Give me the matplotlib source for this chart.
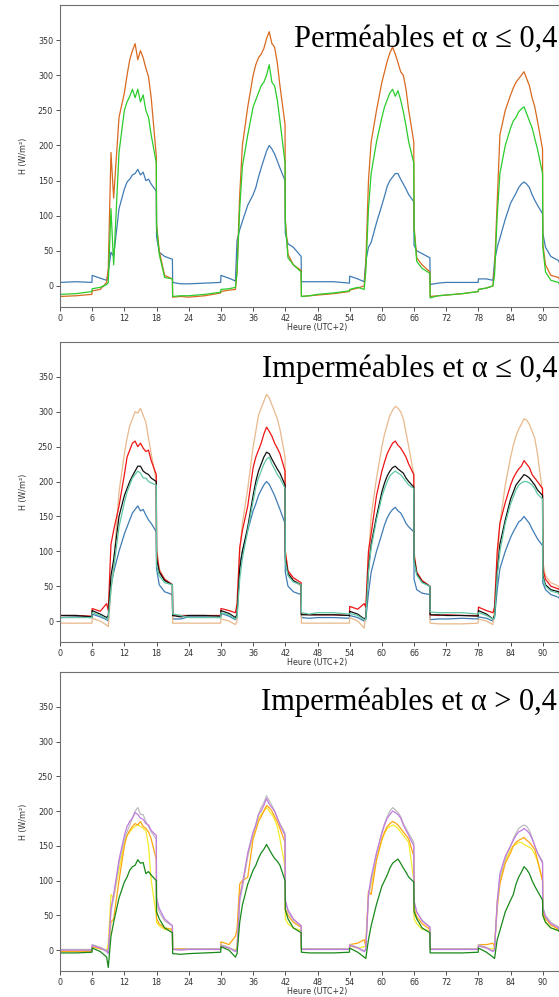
import matplotlib
matplotlib.use("Agg")
from matplotlib import pyplot as plt

# sampling hours inside one day (repeated for the 4 days of the record)
DAY_HOURS = [0, 3, 5.95, 6, 7.5, 8.7, 9, 9.5, 10, 11, 12, 12.5, 13, 13.5, 14, 14.5,
             15, 15.5, 16, 16.5, 17, 17.95, 18, 18.5, 19.5, 20.95, 21, 22.5]
hours = [24 * d + h for d in range(4) for h in DAY_HOURS] + [96]

X_TICKS = [0, 6, 12, 18, 24, 30, 36, 42, 48, 54, 60, 66, 72, 78, 84, 90]
Y_TICKS = [0, 50, 100, 150, 200, 250, 300, 350]

TITLES = ["Perméables et α ≤ 0,4",
          "Imperméables et α ≤ 0,4",
          "Imperméables et α > 0,4"]

# --- panel 1 : permeable surfaces
p1_blue = [5, 6, 5, 15, 11, 8, 20, 48, 42, 110, 138, 148, 152, 158, 160, 166, 158, 162, 150, 152, 145, 135, 70, 48, 42, 38, 5, 3,
           3, 4, 5, 15, 11, 7, 65, 80, 92, 115, 130, 140, 155, 168, 180, 192, 200, 195, 188, 178, 168, 150, 75, 60, 55, 42, 6, 6,
           6, 6, 4, 14, 10, 6, 35, 55, 62, 90, 115, 128, 142, 150, 155, 160, 160, 152, 145, 138, 130, 120, 58, 50, 46, 40, 2, 4,
           5, 5, 5, 10, 10, 8, 35, 55, 68, 95, 118, 125, 132, 140, 145, 148, 145, 140, 130, 122, 115, 103, 75, 55, 42, 36, 34, 32, 30]
p1_orange = [-15, -14, -12, -7, -5, 5, 25, 190, 125, 240, 275, 300, 322, 335, 345, 322, 335, 325, 310, 298, 268, 185, 88, 50, 15, 10, -16, -15,
             -16, -14, -10, -8, -6, -5, 20, 130, 200, 255, 300, 315, 325, 330, 338, 352, 362, 345, 340, 318, 285, 230, 95, 45, 30, 22, -15, -14,
             -13, -11, -8, -6, -3, 0, 30, 150, 205, 250, 290, 305, 320, 332, 340, 330, 318, 305, 300, 280, 250, 205, 85, 40, 30, 20, -15, -14,
             -13, -11, -8, -5, -3, 0, 25, 120, 215, 250, 272, 282, 290, 295, 300, 305, 295, 285, 268, 255, 235, 195, 60, 30, 15, 12, 10, 10, 10]
p1_green = [-12, -11, -8, -4, -2, 2, 5, 110, 30, 190, 250, 262, 270, 280, 268, 280, 262, 272, 250, 240, 215, 175, 85, 45, 12, 10, -15, -14,
            -14, -12, -9, -5, -4, -2, 20, 110, 170, 215, 255, 265, 275, 285, 290, 300, 315, 290, 285, 265, 235, 175, 90, 40, 30, 20, -15, -14,
            -12, -10, -7, -5, -2, -5, 20, 110, 160, 205, 240, 255, 265, 275, 280, 270, 278, 265, 248, 228, 205, 175, 80, 35, 25, 18, -17, -14,
            -13, -11, -8, -5, -3, 0, 15, 100, 160, 200, 225, 235, 240, 248, 252, 255, 245, 235, 225, 210, 195, 160, 55, 20, 8, 5, 3, 3, 3]

# --- panel 2 : impermeable surfaces, low albedo
p2_tan = [-3, -3, -3, 4, 0, -6, -8, 45, 80, 185, 240, 262, 280, 290, 300, 298, 305, 295, 285, 262, 240, 200, 105, 75, 60, 52, -3, -3,
          -3, -3, -3, 3, 0, -5, 0, 100, 140, 190, 250, 272, 295, 305, 315, 325, 320, 310, 300, 290, 275, 235, 100, 70, 58, 50, -3, -3,
          -3, -3, -3, 5, 0, -10, 10, 90, 150, 205, 250, 268, 282, 295, 302, 308, 305, 300, 290, 270, 250, 210, 100, 70, 58, 50, -3, -4,
          -4, -4, -3, 3, 0, -5, 20, 85, 140, 195, 235, 252, 265, 275, 282, 290, 288, 282, 272, 262, 240, 185, 85, 65, 55, 50, 48, 45, 45]
p2_red = [8, 8, 7, 18, 14, 25, 15, 110, 130, 165, 210, 235, 245, 255, 258, 250, 255, 248, 243, 245, 230, 210, 100, 72, 60, 52, 8, 8,
          8, 8, 8, 18, 15, 12, 25, 105, 130, 165, 220, 235, 245, 255, 268, 278, 272, 265, 255, 248, 240, 215, 100, 72, 62, 55, 10, 9,
          9, 9, 8, 21, 17, 25, 20, 100, 125, 180, 215, 228, 240, 248, 255, 258, 252, 248, 242, 235, 225, 210, 95, 70, 58, 50, 9, 8,
          9, 8, 8, 20, 15, 12, 20, 100, 140, 170, 195, 205, 212, 218, 222, 230, 225, 220, 210, 205, 200, 190, 75, 60, 50, 46, 45, 44, 44]
p2_black = [8, 8, 6, 15, 10, 5, 8, 65, 88, 150, 180, 190, 200, 208, 215, 222, 222, 215, 212, 210, 205, 200, 90, 70, 58, 52, 8, 6,
            8, 8, 7, 15, 11, 5, 10, 75, 100, 135, 180, 200, 215, 225, 235, 242, 240, 232, 225, 218, 212, 195, 90, 68, 58, 52, 9, 9,
            9, 9, 8, 14, 10, 3, 5, 75, 110, 150, 185, 198, 208, 215, 220, 222, 218, 215, 212, 205, 200, 192, 90, 68, 56, 50, 9, 9,
            8, 8, 7, 15, 10, 3, 8, 70, 110, 145, 175, 185, 195, 200, 205, 210, 208, 205, 200, 195, 188, 180, 65, 52, 45, 42, 40, 40, 40]
p2_teal = [5, 5, 5, 12, 8, 3, 5, 45, 75, 135, 170, 185, 195, 205, 210, 215, 212, 205, 205, 200, 198, 195, 80, 65, 55, 52, 10, 8,
           5, 5, 5, 12, 9, 3, 6, 60, 90, 130, 172, 192, 205, 215, 225, 232, 235, 225, 218, 210, 205, 190, 85, 65, 56, 52, 12, 10,
           12, 12, 10, 11, 8, 2, 3, 70, 105, 145, 178, 190, 200, 208, 212, 215, 212, 210, 205, 200, 195, 190, 85, 66, 55, 50, 13, 12,
           12, 12, 10, 12, 8, 3, 5, 65, 100, 140, 168, 178, 188, 195, 198, 200, 200, 198, 195, 190, 182, 175, 62, 50, 43, 40, 38, 38, 38]
p2_blue = [5, 6, 5, 10, 6, 2, 0, 50, 70, 100, 125, 135, 145, 155, 160, 165, 158, 160, 152, 145, 140, 128, 75, 52, 42, 38, 3, 3,
           6, 6, 5, 11, 7, 2, 5, 80, 100, 130, 158, 168, 180, 188, 195, 200, 196, 188, 180, 170, 160, 140, 70, 50, 42, 38, 5, 4,
           5, 5, 4, 8, 5, 0, 2, 40, 70, 100, 125, 138, 148, 155, 160, 163, 158, 155, 148, 140, 135, 128, 60, 45, 40, 38, 2, 3,
           3, 4, 3, 6, 4, 0, 5, 45, 75, 100, 120, 128, 135, 142, 145, 150, 145, 140, 132, 125, 118, 108, 55, 45, 38, 34, 33, 32, 32]

# --- panel 3 : impermeable surfaces, high albedo
p3_green = [-4, -4, -3, 3, -2, -10, -25, 20, 40, 75, 98, 105, 115, 120, 122, 130, 125, 126, 110, 113, 108, 100, 55, 45, 32, 25, -5, -6,
            -5, -4, -3, 5, 0, -10, -5, 40, 65, 95, 115, 122, 132, 140, 145, 152, 145, 138, 132, 128, 122, 100, 58, 45, 32, 25, -3, -4,
            -4, -4, -3, 3, -3, -10, -12, 15, 35, 66, 92, 100, 108, 118, 125, 128, 131, 125, 118, 112, 105, 98, 55, 45, 32, 25, -4, -4,
            -4, -4, -3, 3, -3, -10, -12, 15, 28, 55, 72, 80, 95, 105, 112, 120, 116, 110, 100, 92, 85, 72, 50, 40, 32, 28, 27, 25, 25]
p3_violet = [0, 0, 0, 7, 3, -2, -5, 60, 80, 130, 165, 178, 185, 190, 198, 195, 190, 188, 182, 180, 172, 165, 75, 60, 45, 35, 1, 0,
             1, 1, 1, 6, 3, -2, 0, 75, 95, 140, 170, 180, 195, 200, 208, 218, 210, 205, 200, 190, 180, 165, 72, 58, 45, 35, 1, 1,
             1, 1, 1, 7, 3, -2, 0, 80, 105, 140, 168, 180, 190, 195, 200, 198, 195, 190, 180, 172, 165, 150, 70, 55, 42, 33, 1, 1,
             1, 1, 1, 6, 3, -2, 0, 70, 110, 135, 150, 158, 165, 170, 172, 175, 172, 168, 160, 150, 140, 125, 60, 48, 38, 32, 30, 30, 30]
p3_gray = [1, 1, 1, 8, 4, 0, -3, 55, 75, 125, 160, 170, 180, 190, 200, 205, 195, 195, 185, 178, 170, 160, 70, 55, 42, 35, 2, 1,
           2, 2, 2, 8, 4, -1, 2, 70, 90, 135, 168, 180, 195, 205, 212, 222, 215, 208, 200, 190, 182, 168, 70, 55, 43, 35, 2, 2,
           2, 2, 2, 8, 4, -1, 2, 75, 100, 138, 170, 182, 192, 200, 205, 202, 198, 192, 182, 175, 168, 155, 70, 55, 43, 33, 2, 2,
           2, 2, 2, 8, 4, -1, 2, 65, 105, 132, 150, 160, 168, 175, 178, 180, 178, 172, 162, 150, 140, 128, 62, 50, 40, 33, 30, 30, 30]
p3_orange = [-2, -2, -2, 5, 2, 0, 0, 40, 45, 100, 150, 165, 172, 178, 182, 180, 185, 178, 175, 170, 160, 130, 45, 38, 32, 30, 2, 2,
             2, 2, 2, 12, 8, 20, 30, 95, 100, 105, 160, 172, 185, 192, 200, 208, 205, 200, 192, 185, 175, 155, 60, 50, 40, 33, 2, 2,
             2, 2, 2, 8, 10, 15, 5, 85, 80, 130, 160, 170, 178, 182, 185, 183, 180, 175, 170, 165, 160, 135, 60, 48, 38, 30, 2, 2,
             2, 2, 2, 8, 8, 10, 5, 60, 95, 125, 140, 150, 155, 158, 160, 162, 158, 155, 150, 145, 130, 100, 55, 45, 36, 30, 28, 28, 28]
p3_yellow = [0, 0, 0, 5, 2, 0, 10, 80, 75, 115, 155, 165, 170, 175, 178, 180, 178, 175, 172, 150, 100, 50, 40, 35, 30, 28, 1, 1,
             1, 1, 1, 6, 3, 0, 5, 80, 95, 135, 165, 178, 190, 195, 200, 205, 200, 195, 188, 178, 160, 120, 45, 38, 32, 28, 1, 1,
             1, 1, 1, 6, 3, 5, 5, 80, 95, 130, 158, 168, 175, 178, 180, 178, 175, 170, 165, 160, 155, 100, 45, 38, 30, 28, 1, 1,
             1, 1, 1, 6, 3, 2, 5, 70, 100, 128, 145, 150, 152, 155, 155, 152, 150, 148, 145, 138, 128, 100, 50, 40, 32, 28, 27, 27, 27]

panels = [
    [(p1_blue, "#3f7cb5"), (p1_orange, "#d96a1f"), (p1_green, "#2bcc2b")],
    [(p2_blue, "#3f7cb5"), (p2_tan, "#e8b98c"), (p2_red, "#ee1414"),
     (p2_black, "#111111"), (p2_teal, "#5ec8a6")],
    [(p3_yellow, "#f3ec2c"), (p3_orange, "#ffa614"), (p3_gray, "#bcbcbc"),
     (p3_violet, "#c27ce0"), (p3_green, "#18891a")],
]

W, H = 559, 997
# (top, bottom) of each axes box in pixels, and title baseline
boxes = [(5, 307), (342, 642), (672, 971)]
title_base = [47, 377, 710]
LEFT, RIGHT = 60, 575

fig = plt.figure(figsize=(W / 100, H / 100), dpi=100)

for i, series in enumerate(panels):
    top, bottom = boxes[i]
    ax = fig.add_axes([LEFT / W, 1 - bottom / H, (RIGHT - LEFT) / W, (bottom - top) / H])
    for values, color in series:
        ax.plot(hours, values, color=color, lw=0.9)

    ax.set_xlim(0, 96)
    ax.set_ylim(-30, 400)
    ax.set_xticks(X_TICKS)
    ax.set_yticks(Y_TICKS)
    ax.tick_params(labelsize=5.8, colors="#333333", length=3, width=0.6, pad=2)
    for spine in ax.spines.values():
        spine.set_color("#707070")
        spine.set_linewidth(0.8)

    ax.set_ylabel("H (W/m²)", fontsize=5.8, color="#333333")
    ax.yaxis.set_label_coords(-0.062, 0.5)
    ax.set_xlabel("Heure (UTC+2)", fontsize=5.8, color="#333333")
    ax.xaxis.set_label_coords(0.5, -0.052)

    # titles sit flush against the right edge of the figure
    fig.text(557 / W, 1 - title_base[i] / H, TITLES[i], fontsize=22, ha="right",
             va="baseline", family=["Liberation Serif", "DejaVu Serif"], color="black")

fig.savefig("out.png", dpi=100)
